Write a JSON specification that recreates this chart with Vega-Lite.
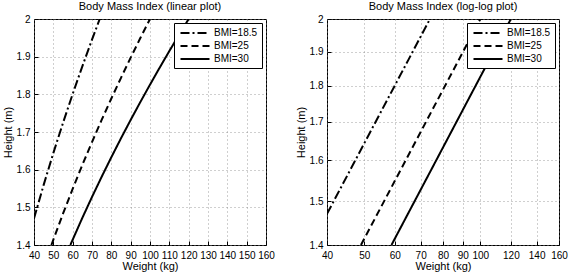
{
  "$schema": "https://vega.github.io/schema/vega-lite/v6.json",
  "padding": {"left": 1, "top": 0, "right": 0, "bottom": 2},
  "config": {
    "font": "Liberation Sans",
    "view": {"stroke": "black", "strokeWidth": 1},
    "axis": {
      "domain": false,
      "gridColor": "#888888",
      "gridDash": [1, 3],
      "gridWidth": 1,
      "gridOpacity": 0.8,
      "tickColor": "black",
      "tickSize": -4,
      "labelFontSize": 10,
      "labelColor": "black",
      "labelPadding": 8,
      "labelFlush": false,
      "titleFontSize": 11,
      "titleFontWeight": "normal",
      "titleColor": "black"
    },
    "axisX": {"titlePadding": 0, "labelPadding": 9},
    "axisY": {"titlePadding": 3},
    "title": {"fontSize": 11, "fontWeight": "normal", "offset": 2},
    "legend": {
      "orient": "top-right",
      "offset": 4,
      "fillColor": "white",
      "strokeColor": "black",
      "padding": 4,
      "labelFontSize": 10,
      "labelColor": "black",
      "symbolType": "M-2.9,0H2.9",
      "symbolSize": 100,
      "symbolStrokeWidth": 2,
      "symbolStrokeColor": "black",
      "symbolOffset": 11,
      "labelOffset": 13,
      "rowPadding": 2,
      "title": null
    },
    "concat": {"spacing": 19}
  },
  "data": {
    "values": [
      {"label": "BMI=18.5", "w": 40, "h": 1.4705},
      {"label": "BMI=18.5", "w": 45, "h": 1.5596},
      {"label": "BMI=18.5", "w": 50, "h": 1.6440},
      {"label": "BMI=18.5", "w": 55, "h": 1.7242},
      {"label": "BMI=18.5", "w": 60, "h": 1.8009},
      {"label": "BMI=18.5", "w": 65, "h": 1.8744},
      {"label": "BMI=18.5", "w": 70, "h": 1.9452},
      {"label": "BMI=18.5", "w": 74, "h": 2.0},
      {"label": "BMI=25", "w": 49, "h": 1.4},
      {"label": "BMI=25", "w": 55, "h": 1.4832},
      {"label": "BMI=25", "w": 60, "h": 1.5492},
      {"label": "BMI=25", "w": 65, "h": 1.6125},
      {"label": "BMI=25", "w": 70, "h": 1.6733},
      {"label": "BMI=25", "w": 75, "h": 1.7321},
      {"label": "BMI=25", "w": 80, "h": 1.7889},
      {"label": "BMI=25", "w": 85, "h": 1.8439},
      {"label": "BMI=25", "w": 90, "h": 1.8974},
      {"label": "BMI=25", "w": 95, "h": 1.9494},
      {"label": "BMI=25", "w": 100, "h": 2.0},
      {"label": "BMI=30", "w": 58.8, "h": 1.4},
      {"label": "BMI=30", "w": 65, "h": 1.4720},
      {"label": "BMI=30", "w": 70, "h": 1.5275},
      {"label": "BMI=30", "w": 75, "h": 1.5811},
      {"label": "BMI=30", "w": 80, "h": 1.6330},
      {"label": "BMI=30", "w": 85, "h": 1.6833},
      {"label": "BMI=30", "w": 90, "h": 1.7321},
      {"label": "BMI=30", "w": 95, "h": 1.7795},
      {"label": "BMI=30", "w": 100, "h": 1.8257},
      {"label": "BMI=30", "w": 105, "h": 1.8708},
      {"label": "BMI=30", "w": 110, "h": 1.9149},
      {"label": "BMI=30", "w": 115, "h": 1.9579},
      {"label": "BMI=30", "w": 120, "h": 2.0}
    ]
  },
  "hconcat": [
    {
      "title": "Body Mass Index (linear plot)",
      "width": 232,
      "height": 226,
      "mark": {"type": "line", "color": "black", "strokeWidth": 2, "clip": true},
      "encoding": {
        "x": {"field": "w", "type": "quantitative", "title": "Weight (kg)",
              "scale": {"domain": [40, 160], "nice": false, "zero": false},
              "axis": {"values": [40,50,60,70,80,90,100,110,120,130,140,150,160]}},
        "y": {"field": "h", "type": "quantitative", "title": "Height (m)",
              "scale": {"domain": [1.4, 2], "nice": false, "zero": false},
              "axis": {"values": [1.4,1.5,1.6,1.7,1.8,1.9,2], "format": ".2~f"}},
        "strokeDash": {"field": "label", "type": "nominal",
              "scale": {"range": [[9,3,2,3],[7,4],[1,0]]},
              "legend": {}}
      }
    },
    {
      "title": "Body Mass Index (log-log plot)",
      "width": 232,
      "height": 226,
      "mark": {"type": "line", "color": "black", "strokeWidth": 2, "clip": true},
      "encoding": {
        "x": {"field": "w", "type": "quantitative", "title": "Weight (kg)",
              "scale": {"type": "log", "domain": [40, 160], "nice": false},
              "axis": {"values": [40,50,60,70,80,90,100,120,140,160]}},
        "y": {"field": "h", "type": "quantitative", "title": "Height (m)",
              "scale": {"type": "log", "domain": [1.4, 2], "nice": false},
              "axis": {"values": [1.4,1.5,1.6,1.7,1.8,1.9,2], "format": ".2~f"}},
        "strokeDash": {"field": "label", "type": "nominal",
              "scale": {"range": [[9,3,2,3],[7,4],[1,0]]},
              "legend": {}}
      }
    }
  ],
  "resolve": {"legend": {"strokeDash": "independent"}}
}
